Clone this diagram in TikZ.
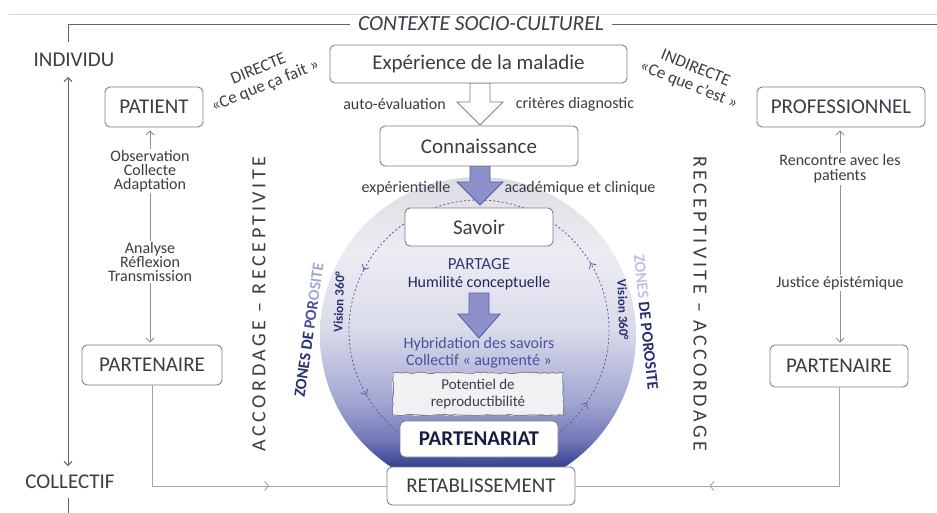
\documentclass[tikz,border=0pt]{standalone}
\usepackage{fontspec}
\setmainfont{Carlito}
\usetikzlibrary{arrows.meta,decorations.markings,decorations.pathmorphing,calc}
\definecolor{txt}{HTML}{3C3C46}
\definecolor{bord}{HTML}{7E7E88}
\definecolor{lin}{HTML}{8E8E96}
\definecolor{navy}{HTML}{2A3072}
\definecolor{blu}{HTML}{4A52A0}
\definecolor{lav}{HTML}{8D91C9}
\definecolor{lavd}{HTML}{5A5E9E}
\definecolor{sphA}{HTML}{26307C}
\definecolor{sphB}{HTML}{3A4593}
\definecolor{sphG}{HTML}{7378B8}
\definecolor{sphC}{HTML}{A2A6D2}
\definecolor{sphD}{HTML}{DADBEA}
\definecolor{sphE}{HTML}{ECECF3}
\definecolor{sphF}{HTML}{DCDCE3}
\definecolor{potfill}{HTML}{F1F1F4}
\definecolor{faint}{HTML}{D6D6E8}
\pgfdeclareverticalshading{sphere}{100bp}{color(0bp)=(sphA); color(25bp)=(sphA); color(29.5bp)=(sphB); color(33.5bp)=(sphG); color(39.5bp)=(sphC); color(51bp)=(sphD); color(63bp)=(sphE); color(75bp)=(sphF); color(100bp)=(sphF)}
\tikzset{
  box/.style={draw=bord, line width=0.9pt, rounded corners=5pt, fill=white, text=txt, inner sep=0pt, align=center, font=\fontsize{21}{24}\selectfont},
  lbl/.style={text=txt, inner sep=1pt, align=center, font=\fontsize{16}{14}\selectfont},
  conn/.style={draw=lin, line width=0.9pt},
  dcirc/.style={draw=lavd, line width=0.8pt, dash pattern=on 2pt off 2.2pt},
  sidetxt/.style={text=txt, inner sep=0pt, font=\fontsize{20}{22}\selectfont\addfontfeatures{LetterSpace=18}},
  zone/.style={inner sep=0pt, font=\bfseries\fontsize{16}{18}\selectfont},
  vis/.style={inner sep=0pt, text=navy, font=\bfseries\fontsize{13}{15}\selectfont},
  midarrow/.style={postaction={decorate}, decoration={markings, mark=at position #1 with {\arrow{Straight Barb[length=4pt,width=9pt]}}}},
  >={Straight Barb[length=4pt,width=8pt]}
}
\begin{document}
\begin{tikzpicture}[x=1pt,y=-1pt]
\useasboundingbox (0,0) rectangle (937,513);
\fill[white] (0,0) rectangle (937,513);
\pgfmathsetseed{11}
% faint page border
\draw[faint, line width=0.8pt] (8,14) -- (937,14);
% sphere
\shade[shading=sphere] (478,335) circle[radius=158];
% dashed circular arrows
\coordinate (cc) at (479,330);
\draw[dcirc,->] (cc) ++(90:130) arc[start angle=90,end angle=34,radius=130];
\draw[dcirc,->] (cc) ++(34:130) arc[start angle=34,end angle=-31,radius=130];
\draw[dcirc,->] (cc) ++(-31:130) arc[start angle=-31,end angle=-152.5,radius=130];
\draw[dcirc,->] (cc) ++(-152.5:130) arc[start angle=-152.5,end angle=-210,radius=130];
\draw[dcirc] (cc) ++(-210:130) arc[start angle=-210,end angle=-270,radius=130];
% context frame
\node[inner xsep=8pt, inner ysep=0pt, text=txt, font=\itshape\fontsize{21.5}{24}\selectfont] (ctx) at (481,24) {CONTEXTE SOCIO-CULTUREL};
\coordinate (fr1) at (68,42);
\coordinate (fr2) at (937,24);
\coordinate (fr3) at (68,498);
\coordinate (fr4) at (68,513);
\draw[conn, draw=txt!80] (fr1) |- (ctx.west);
\draw[conn, draw=txt!80] (ctx.east) -- (fr2);
\draw[conn, draw=txt!80] (fr3) -- (fr4);
% axis individu / collectif
\node[text=txt, inner sep=0pt, font=\fontsize{21}{24}\selectfont] (ind) at (74,60) {INDIVIDU};
\node[text=txt, inner sep=0pt, font=\fontsize{21}{24}\selectfont] (col) at (70,482) {COLLECTIF};
\coordinate (axt) at (68,77);
\coordinate (axb) at (68,466);
\draw[conn, draw=txt!80, <->] (axb) -- (axt);
% block arrows
\draw[draw=bord, fill=white, line width=0.9pt] (470,83) -- (490,83) -- (490,102) -- (503,102) -- (480,125) -- (457,102) -- (470,102) -- cycle;
\draw[draw=lavd, fill=lav, line width=0.9pt] (470,166) -- (490,166) -- (490,182) -- (503,182) -- (480,205) -- (457,182) -- (470,182) -- cycle;
\draw[draw=lavd, fill=lav, line width=0.9pt] (469,293) -- (489,293) -- (489,314) -- (500,314) -- (479,338) -- (458,314) -- (469,314) -- cycle;
% central boxes
\node[box, minimum width=297pt, minimum height=38pt] (exp) at (478.5,64) {Expérience de la maladie};
\node[box, minimum width=198pt, minimum height=40pt] (con) at (479,146) {Connaissance};
\node[box, minimum width=148pt, minimum height=38pt] (sav) at (479,227) {Savoir};
\node[inner sep=0pt, minimum width=170pt, minimum height=42pt] (pot) at (478,394) {};
\fill[potfill, decorate, decoration={random steps, segment length=4pt, amplitude=0.8pt}] (pot.south west) rectangle (pot.north east);
\draw[bord, line width=0.8pt, decorate, decoration={random steps, segment length=4pt, amplitude=0.8pt}] (pot.south west) rectangle (pot.north east);
\node[text=txt, inner sep=0pt, align=center, font=\fontsize{15}{17}\selectfont] (pottxt) at (pot.center) {Potentiel de\\reproductibilité};
\node[box, minimum width=158pt, minimum height=36pt, text=navy!60!black, font=\bfseries\fontsize{21}{24}\selectfont] (ptn) at (479,439) {PARTENARIAT};
\node[box, minimum width=188pt, minimum height=38pt] (ret) at (481,486) {RETABLISSEMENT};
% central labels
\node[lbl] (auto) at (394.5,104) {auto-évaluation};
\node[lbl] (crit) at (575,104) {critères diagnostic};
\node[lbl] (expe) at (406,188) {expérientielle};
\node[lbl] (acad) at (580,188) {académique et clinique};
\node[lbl, text=blu!70!black, font=\fontsize{17}{19}\selectfont] (part) at (479,264) {PARTAGE};
\node[lbl, text=navy!80!black] (hum) at (479,283) {Humilité conceptuelle};
\node[lbl, text=blu, font=\fontsize{16}{17}\selectfont] (hyb) at (479,353) {Hybridation des savoirs\\Collectif « augmenté »};
% directe / indirecte
\node[lbl, rotate=22, font=\fontsize{17}{18}\selectfont] (dir) at (262,78) {DIRECTE\\«Ce que ça fait »};
\node[lbl, rotate=-22, font=\fontsize{17}{18}\selectfont] (indir) at (692,77) {INDIRECTE\\«Ce que c’est »};
% left column
\node[box, minimum width=98pt, minimum height=40pt] (pat) at (154,107) {PATIENT};
\node[lbl] (obs) at (150,171) {Observation\\Collecte\\Adaptation};
\node[lbl] (ana) at (150,262) {Analyse\\Réflexion\\Transmission};
\node[box, minimum width=140pt, minimum height=40pt] (parL) at (152,365) {PARTENAIRE};
\draw[conn,->, shorten >=3pt] (obs.north) -- (obs.north |- pat.south);
\draw[conn] (obs.south) -- (ana.north);
\draw[conn,->, shorten >=2pt] (ana.south) -- (ana.south |- parL.north);
% right column
\node[box, minimum width=168pt, minimum height=40pt] (pro) at (841,107) {PROFESSIONNEL};
\node[lbl, font=\fontsize{16}{15}\selectfont] (ren) at (840,169) {Rencontre avec les\\patients};
\node[lbl] (jus) at (840,283) {Justice épistémique};
\node[box, minimum width=138pt, minimum height=42pt] (parR) at (839,366) {PARTENAIRE};
\draw[conn,->, shorten >=3pt] (ren.north) -- (ren.north |- pro.south);
\draw[conn] (ren.south) -- (jus.north);
\draw[conn,->, shorten >=2pt] (jus.south) -- (jus.south |- parR.north);
% to retablissement
\draw[conn, draw=lin!80, midarrow=0.65] (parL.south) |- (ret.west);
\draw[conn, draw=lin!80, midarrow=0.63] (parR.south) |- (ret.east);
% side texts
\node[sidetxt, rotate=90] (accL) at (259,304) {ACCORDAGE – RECEPTIVITE};
\node[sidetxt, rotate=-90] (accR) at (700,304) {RECEPTIVITE – ACCORDAGE};
\node[zone, rotate=82] (zonL) at (309,330) {\textcolor{navy}{ZONES DE }\textcolor{blu}{POR}\textcolor{lav!80}{OSITE}};
\node[zone, rotate=-84] (zonR) at (646,322) {\textcolor{lav!55}{ZONES }\textcolor{navy}{DE POROSITE}};
\node[vis, rotate=88] (visL) at (339,302) {Vision 360°};
\node[vis, rotate=-88] (visR) at (623,310) {Vision 360°};
\end{tikzpicture}
\end{document}
